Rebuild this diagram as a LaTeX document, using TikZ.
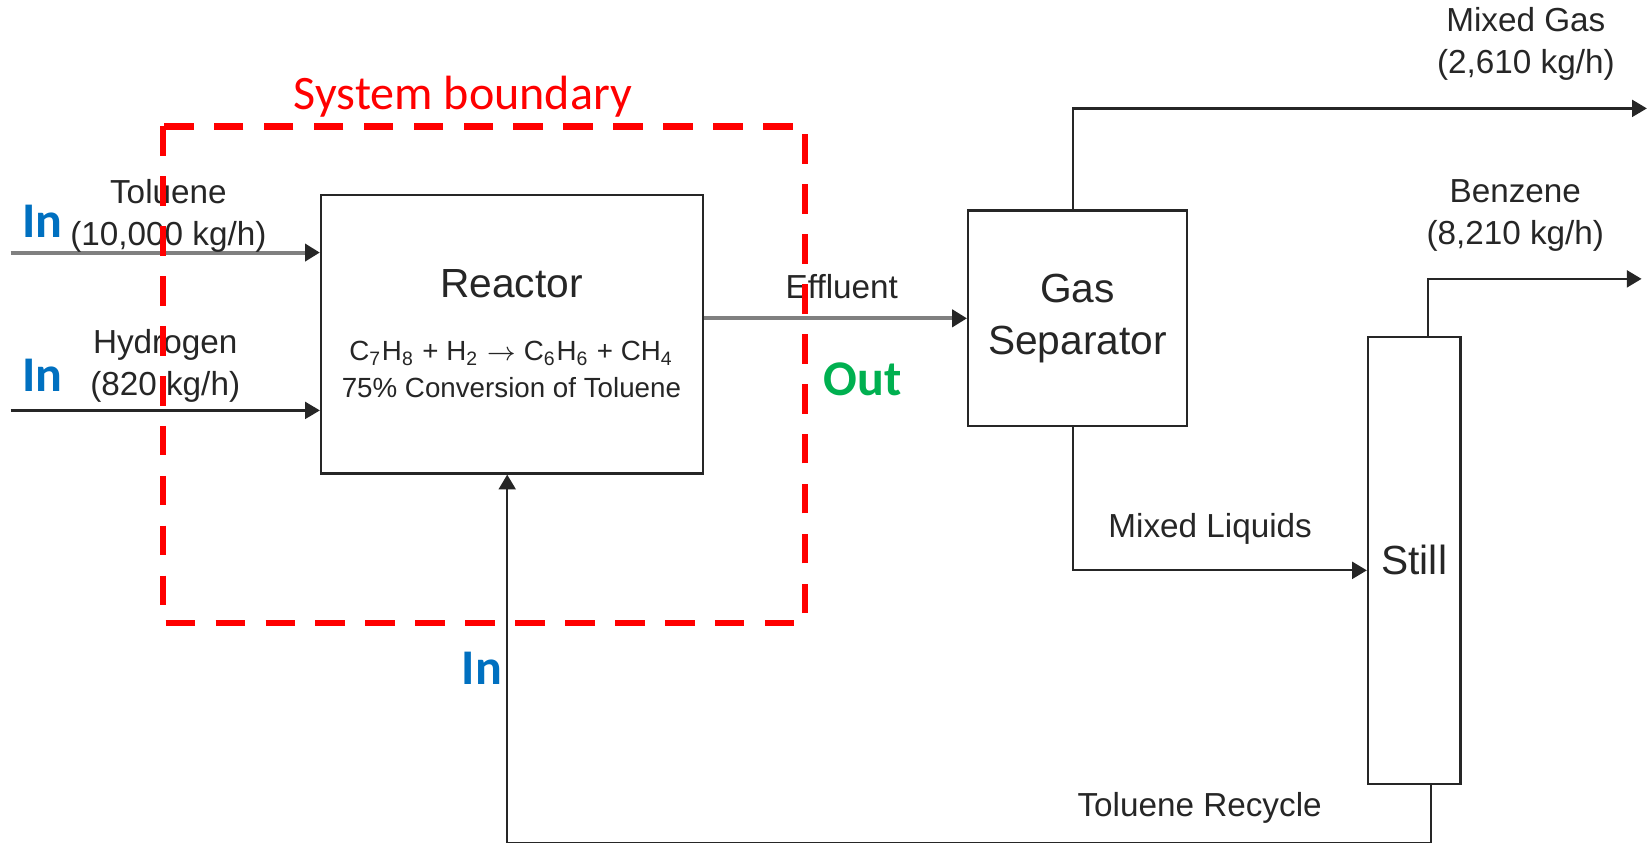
\documentclass[tikz,border=0pt]{standalone}
\usepackage{fontspec}
\setmainfont{Liberation Sans}
\newfontfamily\calfont{Carlito}
\usepackage{tikz}
\usetikzlibrary{positioning,arrows.meta,calc}
\definecolor{pfdline}{HTML}{262626}
\definecolor{pfdgray}{HTML}{808080}
\definecolor{pfdtext}{HTML}{262626}
\definecolor{pfdred}{HTML}{FF0000}
\definecolor{pfdblue}{HTML}{0070C0}
\definecolor{pfdgreen}{HTML}{00B050}
\tikzset{
  unit/.style    ={draw=pfdline, line width=0.6pt, fill=white, inner sep=0pt,
                   text=pfdtext, font=\fontsize{11}{14.2}\selectfont, align=center},
  flow/.style    ={draw=pfdline, line width=0.6pt, -{Triangle[length=4pt,width=4.6pt,color=pfdline]}},
  flowgray/.style={flow, draw=pfdgray, line width=1.1pt},
  tag/.style     ={text=pfdtext, font=\fontsize{9}{11.4}\selectfont, align=center, inner sep=0pt},
  eqn/.style     ={text=pfdtext, font=\fontsize{7.5}{9}\selectfont, inner sep=0pt},
  inmark/.style  ={text=pfdblue, font=\calfont\bfseries\fontsize{13.5}{15}\selectfont, inner sep=0pt},
  outmark/.style ={text=pfdgreen, font=\calfont\bfseries\fontsize{13.5}{15}\selectfont, inner sep=0pt},
  boundary/.style={draw=pfdred, line width=1.8pt, dash pattern=on 8pt off 5.5pt},
}

\begin{document}
\begin{tikzpicture}[x=0.1mm, y=-0.1mm]
  \useasboundingbox (0,0) rectangle (1568,801);
  % process units
  \node[unit, minimum width=3.63cm, minimum height=2.65cm] (reactor) at (486.5,317.5) {};
  \node[unit, minimum width=2.08cm, minimum height=2.05cm] (sep) at (1024,302.5) {Gas\\Separator};
  \node[unit, minimum width=0.88cm, minimum height=4.25cm] (still) at (1344,532.5) {Still};
  \node[text=pfdtext, font=\fontsize{11}{13}\selectfont] (reacname) at (486,270) {Reactor};
  \node[eqn] (reaceq) at (486,336) {C\textsubscript{7}H\textsubscript{8} + H\textsubscript{2} \ensuremath{\rightarrow} C\textsubscript{6}H\textsubscript{6} + CH\textsubscript{4}};
  \node[eqn] (reacconv) at (486,368) {75\% Conversion of Toluene};
  % feeds
  \coordinate (tolfeed) at (10,240);
  \coordinate (hydfeed) at (10,390);
  \draw[flowgray] (tolfeed) -- (tolfeed -| reactor.west);
  \draw[flow] (hydfeed) -- (hydfeed -| reactor.west);
  \node[tag] (tollab) at (160,205) {Toluene\\(10,000 kg/h)};
  \node[tag] (hydlab) at (157,348) {Hydrogen\\(820 kg/h)};
  % effluent
  \draw[flowgray] (reactor.east |- sep.west) -- (sep.west);
  \node[tag] (efflab) at (800,272) {Effluent};
  % products
  \coordinate (gasout) at (1565,103);
  \coordinate (benzout) at (1560,265);
  \draw[flow] ([xshift=-0.4mm]sep.north) |- (gasout);
  \node[tag] (gaslab) at (1450,42) {Mixed Gas\\(2,610 kg/h)};
  \draw[flow] ([xshift=1.3mm]still.north) |- (benzout);
  \node[tag] (benzlab) at (1440,205) {Benzene\\(8,210 kg/h)};
  \draw[flow] ([xshift=-0.4mm]sep.south) |- ([yshift=-0.95mm]still.west);
  \node[tag] (liqlab) at (1150,503) {Mixed Liquids};
  % recycle
  \draw[flow] ([xshift=1.6mm]still.south) -- ++(0,55) -| ([xshift=-0.45mm]reactor.south);
  \node[tag] (reclab) at (1140,768) {Toluene Recycle};
  % system boundary
  \draw[boundary] (155,120) rectangle (765,592);
  \node[text=pfdred, font=\calfont\fontsize{13}{15}\selectfont, inner sep=0pt] (boundlab) at (440,92) {System boundary};
  \node[inmark] (intol) at (40,210) {In};
  \node[inmark] (inhyd) at (40,357) {In};
  \node[inmark] (inrec) at (458,635) {In};
  \node[outmark] (outeff) at (820,360) {Out};
\end{tikzpicture}
\end{document}
